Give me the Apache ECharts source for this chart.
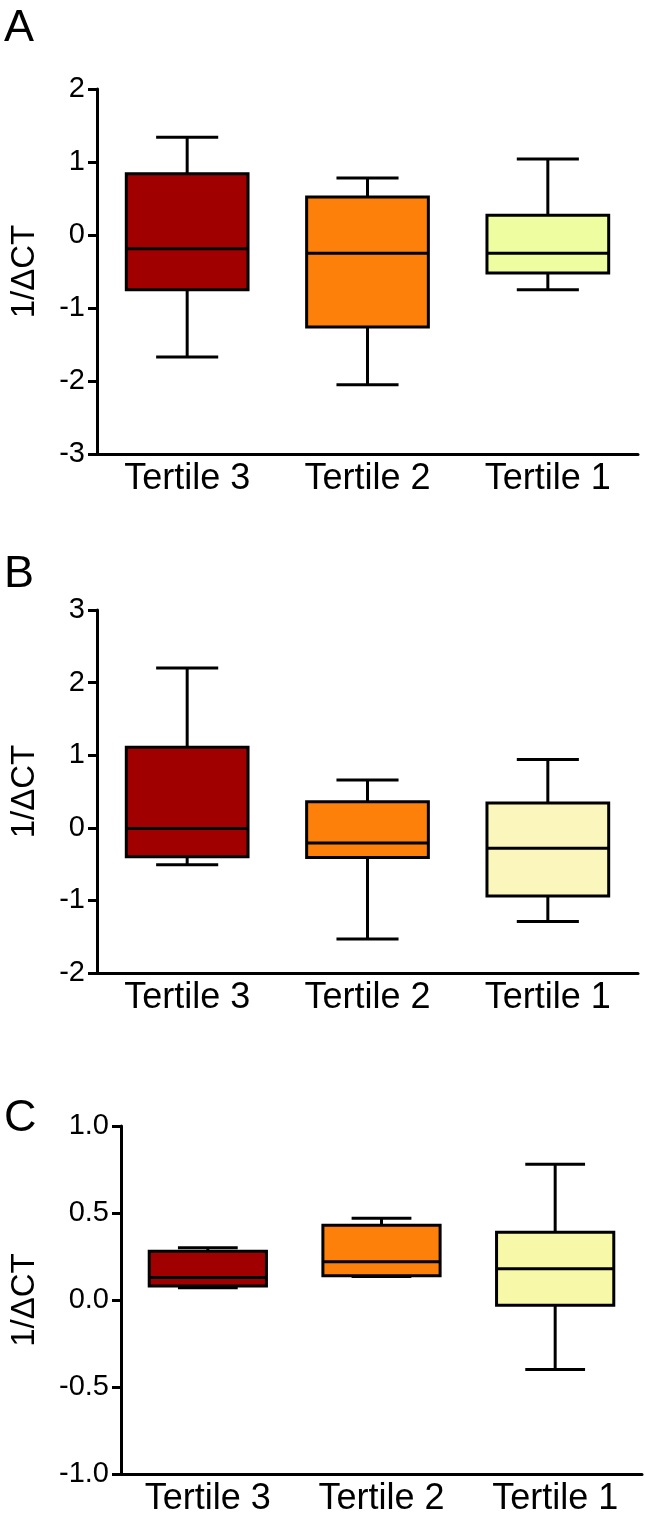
<!DOCTYPE html>
<html>
<head>
<meta charset="utf-8">
<script src="https://cdn.jsdelivr.net/npm/echarts@6/dist/echarts.min.js"></script>
<style>
html,body{margin:0;padding:0;background:#fff;}
#chart{width:645px;height:1517px;}
</style>
</head>
<body>
<div id="chart"></div>
<script>
// ---- data ----
const categories = ['Tertile 3', 'Tertile 2', 'Tertile 1'];

// Panel A: [Tertile 3, Tertile 2, Tertile 1]
const aMin = [-1.67, -2.05, -0.75];
const aQ1  = [-0.75, -1.26, -0.52];
const aMed = [-0.19, -0.25, -0.25];
const aQ3  = [0.84, 0.52, 0.27];
const aMax = [1.34, 0.78, 1.04];

// Panel B
const bMin = [-0.51, -1.53, -1.29];
const bQ1  = [-0.40, -0.41, -0.94];
const bMed = [-0.01, -0.21, -0.28];
const bQ3  = [1.11, 0.36, 0.34];
const bMax = [2.20, 0.66, 0.94];

// Panel C
const cMin = [0.07, 0.135, -0.40];
const cQ1  = [0.08, 0.14, -0.03];
const cMed = [0.13, 0.22, 0.18];
const cQ3  = [0.28, 0.43, 0.39];
const cMax = [0.30, 0.47, 0.78];

const aTicks = { min: -3, max: 2, interval: 1 };
const bTicks = { min: -2, max: 3, interval: 1 };
const cTicks = { min: -1, max: 1, interval: 0.5 };

const panelLetters = ['A', 'B', 'C'];
const yName = '1/ΔCT';

// ---- styles ----
const colorsA = ['#A10000', '#FC8009', '#EEFD9F'];
const colorsB = ['#A10000', '#FC8009', '#FBF7BC'];
const colorsC = ['#A10000', '#FC8009', '#F7F9A8'];
const FONT = '"Liberation Sans", Arial, sans-serif';

function rows(mn, q1, md, q3, mx) {
  return categories.map((c, i) => [i, mn[i], q1[i], md[i], q3[i], mx[i]]);
}

function makeRender(colors) {
  return function (params, api) {
    const cat = api.value(0);
    const lo = api.coord([cat, api.value(1)]);
    const p1 = api.coord([cat, api.value(2)]);
    const pm = api.coord([cat, api.value(3)]);
    const p3 = api.coord([cat, api.value(4)]);
    const hi = api.coord([cat, api.value(5)]);
    const band = api.size([1, 0])[0];
    const bw = band * 0.675;
    const cw = bw * 0.51;
    const x = lo[0];
    const ls = { stroke: '#000', lineWidth: 3 };
    return {
      type: 'group',
      children: [
        { type: 'line', shape: { x1: x, y1: hi[1], x2: x, y2: p3[1] }, style: ls },
        { type: 'line', shape: { x1: x, y1: p1[1], x2: x, y2: lo[1] }, style: ls },
        { type: 'line', shape: { x1: x - cw / 2, y1: hi[1], x2: x + cw / 2, y2: hi[1] }, style: ls },
        { type: 'line', shape: { x1: x - cw / 2, y1: lo[1], x2: x + cw / 2, y2: lo[1] }, style: ls },
        { type: 'rect', shape: { x: x - bw / 2, y: p3[1], width: bw, height: p1[1] - p3[1] },
          style: { fill: colors[params.dataIndex], stroke: '#000', lineWidth: 3 } },
        { type: 'line', shape: { x1: x - bw / 2, y1: pm[1], x2: x + bw / 2, y2: pm[1] }, style: ls }
      ]
    };
  };
}

const grids = [
  { left: 93, top: 89, width: 545, height: 365 },
  { left: 93, top: 610, width: 545, height: 363 },
  { left: 117, top: 1126, width: 525, height: 351 }
];
const ticks = [aTicks, bTicks, cTicks];
const nameGaps = [56, 56, 80];

const option = {
  backgroundColor: '#fff',
  animation: false,
  title: panelLetters.map((t, i) => ({
    text: t, left: -1, top: [1, 547, 1091][i],
    textStyle: { fontFamily: FONT, fontSize: 45, fontWeight: 'normal', color: '#000' }
  })),
  grid: grids,
  xAxis: grids.map((g, i) => ({
    type: 'category', gridIndex: i, data: categories, boundaryGap: true,
    axisLine: { show: true, onZero: false, lineStyle: { color: '#000', width: 3 } },
    axisTick: { show: false },
    axisLabel: { color: '#000', fontFamily: FONT, fontSize: 36, margin: 7 },
    splitLine: { show: false }
  })),
  yAxis: grids.map((g, i) => ({
    type: 'value', gridIndex: i, min: ticks[i].min, max: ticks[i].max, interval: ticks[i].interval,
    name: yName, nameLocation: 'middle', nameGap: nameGaps[i],
    nameTextStyle: { color: '#000', fontFamily: FONT, fontSize: 33 },
    axisLine: { show: true, onZero: false, lineStyle: { color: '#000', width: 3 } },
    axisTick: { show: true, inside: false, length: 9, lineStyle: { color: '#000', width: 3 } },
    axisLabel: {
      color: '#000', fontFamily: FONT, fontSize: 29, margin: 12,
      formatter: i === 2 ? (v => v.toFixed(1)) : (v => String(v))
    },
    splitLine: { show: false }
  })),
  series: [
    { type: 'custom', xAxisIndex: 0, yAxisIndex: 0, renderItem: makeRender(colorsA),
      encode: { x: 0, y: [1, 2, 3, 4, 5] }, data: rows(aMin, aQ1, aMed, aQ3, aMax) },
    { type: 'custom', xAxisIndex: 1, yAxisIndex: 1, renderItem: makeRender(colorsB),
      encode: { x: 0, y: [1, 2, 3, 4, 5] }, data: rows(bMin, bQ1, bMed, bQ3, bMax) },
    { type: 'custom', xAxisIndex: 2, yAxisIndex: 2, renderItem: makeRender(colorsC),
      encode: { x: 0, y: [1, 2, 3, 4, 5] }, data: rows(cMin, cQ1, cMed, cQ3, cMax) }
  ]
};

const chart = echarts.init(document.getElementById('chart'), null, { renderer: 'canvas' });
chart.setOption(option);
</script>
</body>
</html>
